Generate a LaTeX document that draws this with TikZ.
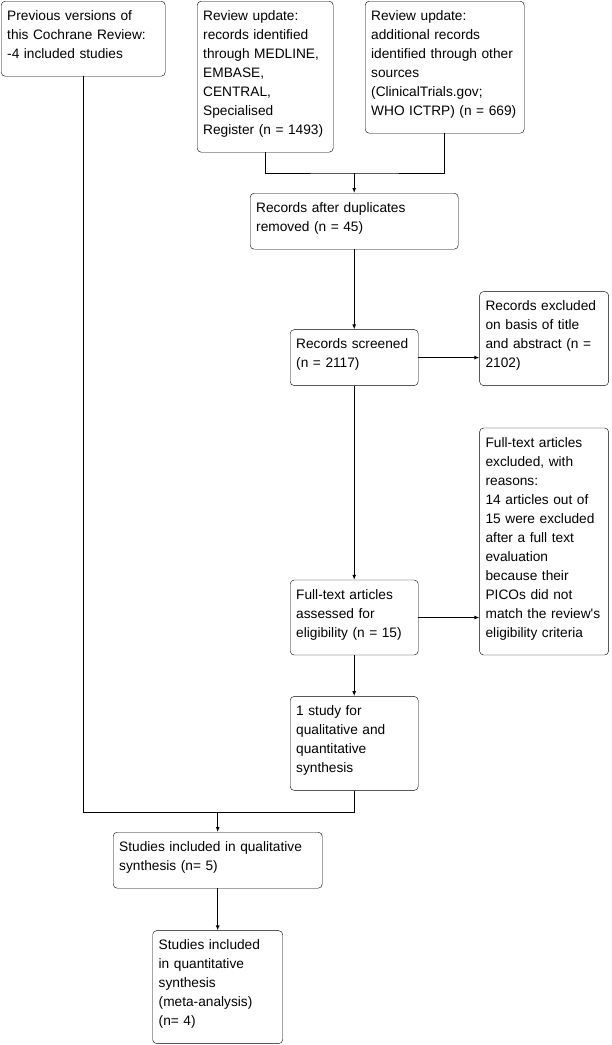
\documentclass[tikz,border=0pt]{standalone}
\usepackage{fontspec}
\setmainfont{Liberation Sans}[Ligatures=TeXOff]
\usetikzlibrary{arrows.meta,positioning}

\begin{document}
\begin{tikzpicture}[
    x=1pt, y=-1pt,
    stage/.style={draw,rounded corners=4pt,anchor=north west,align=left,fill=white,
      inner xsep=6pt,inner ysep=5pt,font=\fontsize{13.7}{19}\selectfont,
      execute at begin node=\rule{0pt}{14pt},
      execute at end node=\rule[-13pt]{0pt}{13pt}},
    link/.style={line width=1pt},
    arrow/.style={link,-{Latex[length=5pt,width=4pt]}}
  ]
    \useasboundingbox (0,0) rectangle (611,1045);
    % sources
    \node[stage,text width=152pt] (prev) at (1,1)
      {Previous versions of\\this Cochrane Review:\\-4 included studies};
    \node[stage,text width=124pt] (db) at (197,1)
      {Review update:\\records identified\\through MEDLINE,\\EMBASE,\\CENTRAL,\\Specialised\\Register (n = 1493)};
    \node[stage,text width=147pt] (other) at (365,1)
      {Review update:\\additional records\\identified through other\\sources\\(ClinicalTrials.gov;\\WHO ICTRP) (n = 669)};
    % screening chain
    \node[stage,text width=196pt] (dup) at (250,193)
      {Records after duplicates\\removed (n = 45)};
    \node[stage,text width=116pt,below=80pt of dup] (screen)
      {Records screened\\(n = 2117)};
    \node[stage,text width=117pt,right=61pt of screen.south east,anchor=south west] (excl)
      {Records excluded\\on basis of title\\and abstract (n =\\2102)};
    \node[stage,text width=116pt,below=194pt of screen] (full)
      {Full-text articles\\assessed for\\eligibility (n = 15)};
    \node[stage,text width=117pt,right=61pt of full.south east,anchor=south west] (reason)
      {Full-text articles\\excluded, with\\reasons:\\14 articles out of\\15 were excluded\\after a full text\\evaluation\\because their\\PICOs did not\\match the review's\\eligibility criteria};
    \node[stage,text width=116pt,below=41pt of full] (study)
      {1 study for\\qualitative and\\quantitative\\synthesis};
    % included
    \node[stage,text width=197pt] (qual) at (113,832)
      {Studies included in qualitative\\synthesis (n= 5)};
    \node[stage,text width=118pt,below=42pt of qual] (quant)
      {Studies included\\in quantitative\\synthesis\\(meta-analysis)\\(n= 4)};
    \coordinate[above=20pt of dup] (merge);
    \coordinate[above=20pt of qual] (gather);
    \draw[link] (db.south) |- (merge) -| (other.south);
    \draw[arrow] (merge) -- (dup);
    \draw[arrow] (dup) -- (screen);
    \draw[arrow] (screen) -- (screen -| excl.west);
    \draw[arrow] (screen) -- (full);
    \draw[arrow] (full) -- (full -| reason.west);
    \draw[arrow] (full) -- (study);
    \draw[link] (prev.south) |- (gather) -| (study.south);
    \draw[arrow] (gather) -- (qual);
    \draw[arrow] (qual) -- (quant);
  \end{tikzpicture}
\end{document}
